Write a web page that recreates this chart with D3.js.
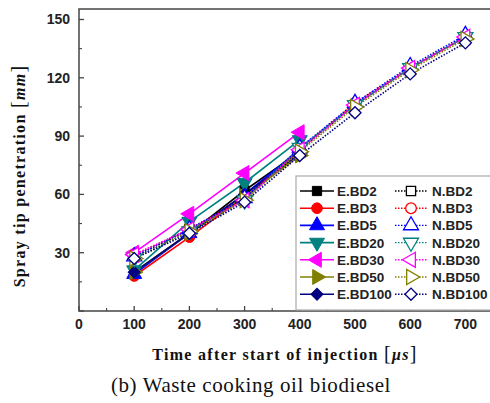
<!DOCTYPE html>
<html><head><meta charset="utf-8">
<script src="https://cdnjs.cloudflare.com/ajax/libs/d3/7.8.5/d3.min.js"></script>
<style>body{margin:0;background:#fff}svg{display:block}</style>
</head><body>
<svg id="c" width="490" height="403"></svg>
<script>
const timesE = [100, 200, 300, 400];
const timesN = [100, 200, 300, 400, 500, 600, 700];
const names = ["BD2", "BD3", "BD5", "BD20", "BD30", "BD50", "BD100"];
const colors = ["#000000", "#ff0000", "#0000ff", "#008080", "#ff00ff", "#808000", "#000080"];
const symbolsKey = ["square", "circle", "up", "down", "left", "right", "diamond"];
const eBD2 = [20, 40, 62, 82];
const eBD3 = [18, 38, 59, 81];
const eBD5 = [19, 40, 60, 83];
const eBD20 = [21, 46, 66, 88];
const eBD30 = [30, 50, 71, 92];
const eBD50 = [20, 40, 59, 80];
const eBD100 = [20, 40, 60, 81];
const nBD2 = [28, 42, 58, 83, 106, 125, 141];
const nBD3 = [29, 42, 58, 83, 107, 125, 141];
const nBD5 = [28, 42, 58, 84, 107, 126, 142];
const nBD20 = [27, 41, 57, 84, 106, 125, 141];
const nBD30 = [29, 42, 57, 83, 106, 125, 141];
const nBD50 = [27, 41, 57, 82, 105, 124, 140];
const nBD100 = [27, 40, 56, 80, 102, 122, 138];
const eSeries = [eBD2, eBD3, eBD5, eBD20, eBD30, eBD50, eBD100];
const nSeries = [nBD2, nBD3, nBD5, nBD20, nBD30, nBD50, nBD100];
const xTicks = [0, 100, 200, 300, 400, 500, 600, 700];
const yTicks = [30, 60, 90, 120, 150];

const svg = d3.select("#c");
const L = 79, R = 493, T = 9, B = 311;
const x = d3.scaleLinear().domain([0, 750]).range([L, R]);
const y = d3.scaleLinear().domain([0, 155.4]).range([B, T]);

function sym(kind, size) {
  let type = d3.symbolTriangle, rot = 0;
  if (kind === "square") type = d3.symbolSquare;
  else if (kind === "circle") type = d3.symbolCircle;
  else if (kind === "up") { type = d3.symbolTriangle; }
  else if (kind === "down") { type = d3.symbolTriangle; rot = 180; }
  else if (kind === "left") { type = d3.symbolTriangle; rot = -90; }
  else if (kind === "right") { type = d3.symbolTriangle; rot = 90; }
  else if (kind === "diamond") { type = d3.symbolSquare; rot = 45; }
  let s = size;
  if (kind === "circle") s = size * 1.05;
  if (kind === "up" || kind === "down" || kind === "left" || kind === "right") s = size * 1.15;
  if (kind === "diamond") s = size * 0.85;
  return { path: d3.symbol().type(type).size(s)(), rot };
}

// frame
svg.append("rect").attr("x", L).attr("y", T).attr("width", R - L).attr("height", B - T)
  .attr("fill", "none").attr("stroke", "#444").attr("stroke-width", 1.5);

const sans = "Liberation Sans, Arial, sans-serif";
const serif = "Liberation Serif, Times New Roman, serif";
// axes ticks (inside)
const xMinor = d3.range(50, 750, 100);
const gx = svg.append("g");
xTicks.forEach(v => gx.append("line").attr("x1", x(v)).attr("x2", x(v)).attr("y1", B).attr("y2", B - 5).attr("stroke", "#444").attr("stroke-width", 1.3));
xMinor.forEach(v => gx.append("line").attr("x1", x(v)).attr("x2", x(v)).attr("y1", B).attr("y2", B - 3).attr("stroke", "#444").attr("stroke-width", 1.1));
xTicks.forEach(v => gx.append("text").attr("x", x(v)).attr("y", B + 18).attr("text-anchor", "middle")
  .attr("font-family", sans).attr("font-weight", "bold").attr("font-size", 14).attr("fill", "#222").text(v));
const yMinor = d3.range(15, 155, 30);
const yMaj = [0].concat(yTicks);
yMaj.forEach(v => gx.append("line").attr("x1", L).attr("x2", L + 5).attr("y1", y(v)).attr("y2", y(v)).attr("stroke", "#444").attr("stroke-width", 1.3));
yMinor.forEach(v => gx.append("line").attr("x1", L).attr("x2", L + 3).attr("y1", y(v)).attr("y2", y(v)).attr("stroke", "#444").attr("stroke-width", 1.1));
yTicks.forEach(v => gx.append("text").attr("x", L - 9).attr("y", y(v) + 5).attr("text-anchor", "end")
  .attr("font-family", sans).attr("font-weight", "bold").attr("font-size", 14).attr("fill", "#222").text(v));

const line = d3.line();
// E series
eSeries.forEach((vals, i) => {
  const pts = vals.map((v, j) => [x(timesE[j]), y(v)]);
  svg.append("path").attr("d", line(pts)).attr("fill", "none").attr("stroke", colors[i]).attr("stroke-width", 1.6);
});
eSeries.forEach((vals, i) => {
  const s = sym(symbolsKey[i], 85);
  vals.forEach((v, j) => {
    svg.append("path").attr("d", s.path).attr("transform", `translate(${x(timesE[j])},${y(v)}) rotate(${s.rot})`)
      .attr("fill", colors[i]).attr("stroke", colors[i]).attr("stroke-width", 1);
  });
});
// N series
nSeries.forEach((vals, i) => {
  const pts = vals.map((v, j) => [x(timesN[j]), y(v)]);
  svg.append("path").attr("d", line(pts)).attr("fill", "none").attr("stroke", colors[i]).attr("stroke-width", 1.6).attr("stroke-dasharray", "1.5,1.5");
});
nSeries.forEach((vals, i) => {
  const s = sym(symbolsKey[i], 85);
  vals.forEach((v, j) => {
    svg.append("path").attr("d", s.path).attr("transform", `translate(${x(timesN[j])},${y(v)}) rotate(${s.rot})`)
      .attr("fill", "#fff").attr("stroke", colors[i]).attr("stroke-width", 1.3);
  });
});

// legend
const lg = svg.append("g");
lg.append("rect").attr("x", 296).attr("y", 176).attr("width", 200).attr("height", 134)
  .attr("fill", "#fff").attr("stroke", "#aaa").attr("stroke-width", 1.2);
names.forEach((n, i) => {
  const ry = 191 + i * 17.2;
  const s = sym(symbolsKey[i], 85);
  lg.append("line").attr("x1", 300).attr("x2", 334).attr("y1", ry).attr("y2", ry).attr("stroke", colors[i]).attr("stroke-width", 1.6);
  lg.append("path").attr("d", s.path).attr("transform", `translate(317,${ry}) rotate(${s.rot})`).attr("fill", colors[i]).attr("stroke", colors[i]);
  lg.append("text").attr("x", 337).attr("y", ry + 5).attr("font-family", sans).attr("font-weight", "bold").attr("font-size", 13.5).attr("fill", "#222").text("E." + n);
  lg.append("line").attr("x1", 395).attr("x2", 428).attr("y1", ry).attr("y2", ry).attr("stroke", colors[i]).attr("stroke-width", 1.4).attr("stroke-dasharray", "1.5,1.5");
  lg.append("path").attr("d", s.path).attr("transform", `translate(411,${ry}) rotate(${s.rot})`).attr("fill", "#fff").attr("stroke", colors[i]).attr("stroke-width", 1.3);
  lg.append("text").attr("x", 432).attr("y", ry + 5).attr("font-family", sans).attr("font-weight", "bold").attr("font-size", 13.5).attr("fill", "#222").text("N." + n);
});

// axis titles
const yt = svg.append("text").attr("transform", "translate(25,176) rotate(-90)").attr("text-anchor", "middle")
  .attr("font-family", serif).attr("font-weight", "bold").attr("font-size", 16).attr("letter-spacing", 1.3).attr("fill", "#111");
yt.append("tspan").text("Spray tip penetration ");
yt.append("tspan").attr("font-size", 20).attr("font-weight", "normal").text("[");
yt.append("tspan").attr("font-style", "italic").text("mm");
yt.append("tspan").attr("font-size", 20).attr("font-weight", "normal").text("]");

const xt = svg.append("text").attr("x", 285).attr("y", 360).attr("text-anchor", "middle")
  .attr("font-family", serif).attr("font-weight", "bold").attr("font-size", 16).attr("letter-spacing", 1.3).attr("fill", "#111");
xt.append("tspan").text("Time after start of injection ");
xt.append("tspan").attr("font-size", 20).attr("font-weight", "normal").text("[");
xt.append("tspan").attr("font-style", "italic").text("μs");
xt.append("tspan").attr("font-size", 20).attr("font-weight", "normal").text("]");

svg.append("text").attr("x", 251).attr("y", 392).attr("text-anchor", "middle")
  .attr("font-family", serif).attr("font-size", 21).attr("letter-spacing", 0.6).attr("fill", "#111")
  .text("(b) Waste cooking oil biodiesel");
</script>
</body></html>
